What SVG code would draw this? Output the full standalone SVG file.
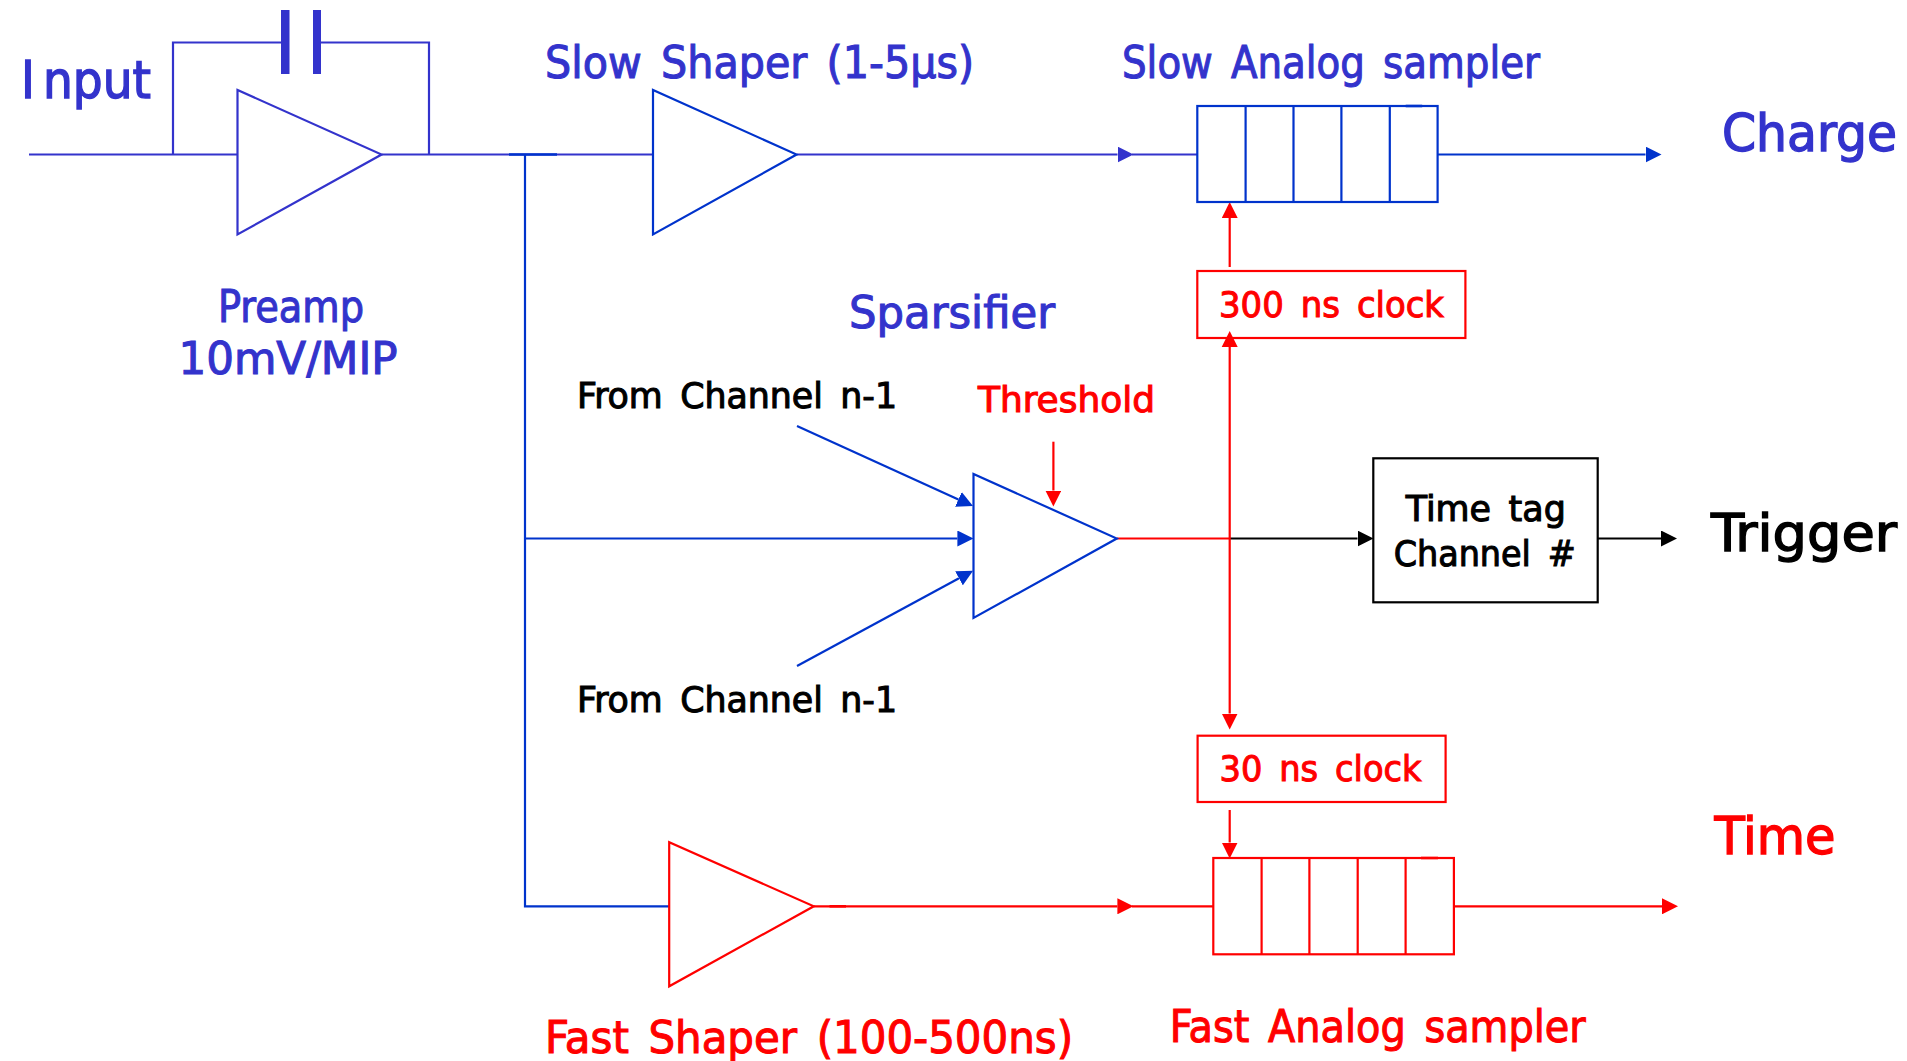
<svg xmlns="http://www.w3.org/2000/svg" width="1907" height="1061" viewBox="0 0 1907 1061">
<style>
text{font-family:"DejaVu Sans","Liberation Sans",sans-serif;font-stretch:condensed;white-space:pre;word-spacing:6px;stroke-width:1px}
.b{fill:#3333cc;stroke:#3333cc}.r{fill:#ff0000;stroke:#ff0000}.k{fill:#000;stroke:#000}
.xl{font-size:52px;stroke-width:1.3px}.l{font-size:44px}.m{font-size:36px}
.sb,.sc,.sr,.sk{fill:none;stroke-width:2.2}
.sb{stroke:#0033cc}.sc{stroke:#3333cc}.sr{stroke:#ff0000}.sk{stroke:#000}
.th{stroke-width:2.6}
</style>
<defs>
<marker id="ab" markerUnits="userSpaceOnUse" markerWidth="16" markerHeight="16" refX="0" refY="8" orient="auto"><path d="M0 0L16 8L0 16Z" fill="#0033cc"/></marker>
<marker id="ac" markerUnits="userSpaceOnUse" markerWidth="16" markerHeight="16" refX="0" refY="8" orient="auto"><path d="M0 0L16 8L0 16Z" fill="#3333cc"/></marker>
<marker id="ar" markerUnits="userSpaceOnUse" markerWidth="16" markerHeight="16" refX="0" refY="8" orient="auto"><path d="M0 0L16 8L0 16Z" fill="#ff0000"/></marker>
<marker id="ak" markerUnits="userSpaceOnUse" markerWidth="16" markerHeight="16" refX="0" refY="8" orient="auto"><path d="M0 0L16 8L0 16Z" fill="#000"/></marker>
</defs>
<rect width="1907" height="1061" fill="#fff"/>
<g id="connectors">
<path class="sc" d="M29 154.5H237.5M173 154.5V42.5H285M317 42.5H429V154.5M381.6 154.5H653"/>
<path class="sb" d="M525 154.500V906.300H669"/>
<path class="sb th" d="M509 154.500H557"/>
<path class="sc" d="M796.600 154.500H1117.500" marker-end="url(#ac)"/>
<path class="sc" d="M1132 154.500H1197.300"/>
<path class="sb" d="M1437.600 154.500H1645.500" marker-end="url(#ab)"/>
<path class="sb" d="M525 538.500H957.400" marker-end="url(#ab)"/>
<path class="sb" d="M797 426L958.400 499.400" marker-end="url(#ab)"/>
<path class="sb" d="M797 666L959 578.300" marker-end="url(#ab)"/>
<path class="sr" d="M1053.400 441.700V490.500" marker-end="url(#ar)"/>
<path class="sr" d="M1116.800 538.500H1229.700"/>
<path class="sk" d="M1229.700 538.500H1357.500" marker-end="url(#ak)"/>
<path class="sk" d="M1597.700 538.500H1661" marker-end="url(#ak)"/>
<path class="sr" d="M1229.700 267V218" marker-end="url(#ar)"/>
<path class="sr" d="M1229.700 347V713.500" marker-end="url(#ar)"/>
<path d="M1221.700 347L1229.700 331L1237.700 347Z" fill="#ff0000"/>
<path class="sr" d="M1229.700 810V842.500" marker-end="url(#ar)"/>
<path class="sr" d="M813.800 906.300H1117.400" marker-end="url(#ar)"/>
<path class="sr th" d="M829.500 906.300H846"/>
<path class="sr" d="M1132 906.300H1213.300"/>
<path class="sr" d="M1453.900 906.300H1662" marker-end="url(#ar)"/>
</g>
<g id="capacitor"><rect x="281" y="10" width="8.500" height="64" fill="#3333cc"/><rect x="313" y="10" width="8" height="64" fill="#3333cc"/></g>
<g id="preamp"><path class="sc" style="fill:#fff" d="M237.500 90V234.500L381.600 154.500Z"/></g>
<g id="slow-shaper"><path class="sb" style="fill:#fff" d="M653 90V234.500L796.600 154.500Z"/></g>
<g id="discriminator"><path class="sb" style="fill:#fff" d="M973.500 474V618L1116.800 538.500Z"/></g>
<g id="fast-shaper"><path class="sr" style="fill:#fff" d="M669.200 842.300V986.300L813.800 906.300Z"/></g>
<g id="slow-sampler">
<rect class="sb" x="1197.300" y="106" width="240.300" height="96"/>
<path class="sb" d="M1245.600 106V202M1293.500 106V202M1341.400 106V202M1389.800 106V202"/>
<path class="sb th" d="M1405.700 106H1422.200"/>
</g>
<g id="fast-sampler">
<rect class="sr" x="1213.300" y="858" width="240.600" height="96.300"/>
<path class="sr" d="M1261.600 858V954.300M1309.400 858V954.300M1357.700 858V954.300M1405.600 858V954.300"/>
<path class="sr th" d="M1421 858H1438"/>
</g>
<g id="clock-300"><rect class="sr" x="1197.300" y="271" width="268.100" height="67"/><text class="m r" x="1219" y="317.300" textLength="225" lengthAdjust="spacingAndGlyphs">300 ns clock</text></g>
<g id="clock-30"><rect class="sr" x="1197.600" y="735.700" width="248" height="66.300"/><text class="m r" x="1219.500" y="781.300" textLength="202" lengthAdjust="spacingAndGlyphs">30 ns clock</text></g>
<g id="time-tag"><rect class="sk" x="1373.300" y="458.300" width="224.400" height="144"/>
<text class="m k" x="1405.800" y="520.700" textLength="160" lengthAdjust="spacingAndGlyphs">Time tag</text>
<text class="m k" x="1393.700" y="565.700" textLength="182" lengthAdjust="spacingAndGlyphs">Channel #</text></g>
<g id="labels">
<text class="xl b" x="21" y="97.700" textLength="130" lengthAdjust="spacingAndGlyphs"><tspan>I</tspan><tspan dx="8">nput</tspan></text>
<text class="l b" x="545" y="77.700" textLength="429" lengthAdjust="spacingAndGlyphs">Slow Shaper (1-5µs)</text>
<text class="l b" x="1122" y="77.700" textLength="418" lengthAdjust="spacingAndGlyphs">Slow Analog sampler</text>
<text class="xl b" x="1722" y="151" textLength="175" lengthAdjust="spacingAndGlyphs">Charge</text>
<text class="l b" x="218" y="322" textLength="146" lengthAdjust="spacingAndGlyphs">Preamp</text>
<text class="l b" x="178.500" y="374" textLength="219" lengthAdjust="spacingAndGlyphs">10mV/MIP</text>
<text class="l b" x="849" y="328" textLength="206" lengthAdjust="spacingAndGlyphs">Sparsifier</text>
<text class="m k" x="577" y="407.700" textLength="320" lengthAdjust="spacingAndGlyphs">From Channel n-1</text>
<text class="m k" x="577" y="711.700" textLength="320" lengthAdjust="spacingAndGlyphs">From Channel n-1</text>
<text class="m r" x="978" y="412.300" textLength="177" lengthAdjust="spacingAndGlyphs">Threshold</text>
<text class="xl k" x="1711" y="550.700" textLength="186" lengthAdjust="spacingAndGlyphs">Trigger</text>
<text class="xl r" x="1714.500" y="854.300" textLength="121" lengthAdjust="spacingAndGlyphs">Time</text>
<text class="l r" x="545" y="1053" textLength="528" lengthAdjust="spacingAndGlyphs">Fast Shaper (100-500ns)</text>
<text class="l r" x="1169.700" y="1042" textLength="416" lengthAdjust="spacingAndGlyphs">Fast Analog sampler</text>
</g>
</svg>
